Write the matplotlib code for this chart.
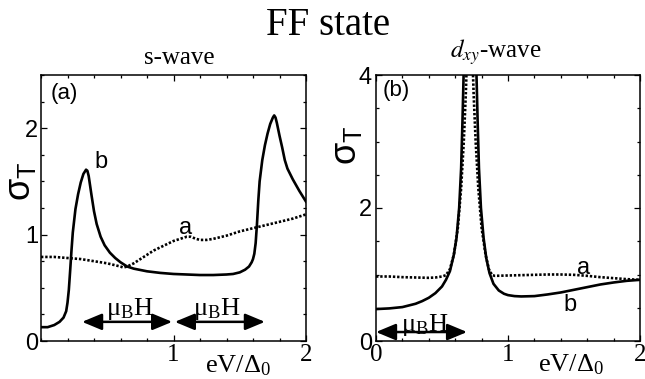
import matplotlib
matplotlib.use("Agg")
import matplotlib.pyplot as plt
from matplotlib.ticker import MultipleLocator, FixedLocator

# ---------------- data ----------------
# panel (a): s-wave
sa_x = [0, 0.1, 0.2, 0.3, 0.4, 0.5, 0.6, 0.62, 0.65, 0.7, 0.75, 0.8, 0.85, 0.9, 0.95,
        1.0, 1.05, 1.1, 1.13, 1.17, 1.2, 1.25, 1.3, 1.4, 1.5, 1.6, 1.7, 1.8, 1.9, 2.0]
sa_y = [0.79, 0.79, 0.78, 0.77, 0.75, 0.73, 0.70, 0.69, 0.70, 0.73, 0.77, 0.81, 0.85, 0.88, 0.91,
        0.94, 0.96, 0.98, 0.98, 0.96, 0.95, 0.95, 0.96, 0.99, 1.03, 1.06, 1.09, 1.12, 1.15, 1.19]

sb_x = [0, 0.05, 0.10, 0.14, 0.17, 0.19, 0.20, 0.21, 0.22, 0.23, 0.24, 0.26, 0.28, 0.30, 0.32,
        0.34, 0.35, 0.36, 0.38, 0.40, 0.42, 0.45, 0.48, 0.52, 0.56, 0.60, 0.65, 0.70, 0.80, 0.90,
        1.00, 1.10, 1.20, 1.30, 1.40, 1.45, 1.50, 1.54, 1.57, 1.59, 1.60, 1.61, 1.62, 1.63, 1.64,
        1.65, 1.67, 1.69, 1.71, 1.73, 1.75, 1.76, 1.77, 1.78, 1.80, 1.82, 1.84, 1.86, 1.88, 1.90,
        1.95, 2.0]
sb_y = [0.13, 0.13, 0.15, 0.18, 0.22, 0.28, 0.36, 0.48, 0.66, 0.85, 1.02, 1.24, 1.38, 1.49, 1.57,
        1.61, 1.60, 1.55, 1.38, 1.22, 1.10, 0.98, 0.90, 0.83, 0.78, 0.74, 0.70, 0.68, 0.655, 0.64,
        0.63, 0.625, 0.62, 0.62, 0.625, 0.63, 0.645, 0.67, 0.70, 0.74, 0.77, 0.82, 0.92, 1.10, 1.32,
        1.50, 1.70, 1.84, 1.95, 2.04, 2.10, 2.12, 2.10, 2.05, 1.93, 1.82, 1.70, 1.62, 1.57, 1.52,
        1.41, 1.31]

# panel (b): dxy-wave
da_x = [0, 0.1, 0.2, 0.3, 0.4, 0.45, 0.5, 0.53, 0.56, 0.59, 0.62, 0.645, 0.665, 0.68, 0.69, 0.70,
        0.72, 0.73, 0.74, 0.755, 0.775, 0.80, 0.83, 0.855, 0.88, 0.9, 1.0, 1.1, 1.2, 1.3, 1.4,
        1.5, 1.6, 1.7, 1.8, 1.9, 2.0]
da_y = [0.97, 0.97, 0.96, 0.955, 0.95, 0.955, 0.97, 0.99, 1.08, 1.30, 1.70, 2.3, 3.0, 3.7, 4.3, 5.5,
        5.5, 4.3, 3.7, 3.0, 2.3, 1.70, 1.30, 1.08, 0.99, 0.98, 0.985, 0.99, 0.995, 1.0, 1.0,
        0.995, 0.98, 0.96, 0.945, 0.93, 0.92]

db_x = [0, 0.1, 0.2, 0.3, 0.35, 0.4, 0.45, 0.5, 0.53, 0.56, 0.59, 0.61, 0.63, 0.645, 0.655, 0.665,
        0.68, 0.745, 0.76, 0.77, 0.78, 0.795, 0.815, 0.835, 0.86, 0.89, 0.93, 0.97, 1.0, 1.05,
        1.1, 1.2, 1.3, 1.4, 1.5, 1.6, 1.7, 1.8, 1.9, 2.0]
db_y = [0.48, 0.49, 0.51, 0.56, 0.60, 0.65, 0.72, 0.82, 0.92, 1.05, 1.30, 1.55, 2.0, 2.6, 3.3, 4.1,
        5.5, 5.5, 4.1, 3.3, 2.6, 2.0, 1.55, 1.25, 1.02, 0.86, 0.76, 0.71, 0.69, 0.675,
        0.67, 0.675, 0.70, 0.73, 0.77, 0.81, 0.85, 0.88, 0.905, 0.92]

# annotations (arrows: x-start, x-end, y ; label x, y)
a_arrows = [(0.31, 0.99, 0.18), (1.01, 1.69, 0.18)]
a_arrow_labels = [(0.67, 0.24), (1.33, 0.24)]
b_arrows = [(0.0, 0.69, 0.135)]
b_arrow_labels = [(0.37, 0.15)]

SERIF = "Liberation Serif"
SANS = "Liberation Sans"

fig = plt.figure(figsize=(6.45, 3.79), dpi=100)
axA = fig.add_axes([41/645, 38/379, 265/645, 266/379])
axB = fig.add_axes([376/645, 38/379, 264/645, 266/379])

LW = 1.9
DOT = (0, (0.9, 0.7))

def style(ax):
    for s in ax.spines.values():
        s.set_linewidth(1.1)
    ax.tick_params(which="both", direction="in", top=True, right=True, width=0.9)
    ax.tick_params(which="major", length=4)
    ax.tick_params(which="minor", length=2.5)
    ax.tick_params(axis="x", pad=2)
    ax.tick_params(axis="y", pad=2)

ARROW = dict(arrowstyle="<|-|>,head_length=0.6,head_width=0.25",
             color="black", lw=1.8, shrinkA=0, shrinkB=0, mutation_scale=20)

# ---- panel a ----
axA.plot(sa_x, sa_y, color="black", lw=LW, linestyle=DOT)
axA.plot(sb_x, sb_y, color="black", lw=LW)
axA.set_xlim(0, 2)
axA.set_ylim(0, 2.5)
style(axA)
axA.xaxis.set_major_locator(FixedLocator([1, 2]))
axA.xaxis.set_minor_locator(MultipleLocator(0.2))
axA.yaxis.set_major_locator(FixedLocator([0, 1, 2]))
axA.yaxis.set_minor_locator(MultipleLocator(0.25))
axA.set_xticklabels(["1", "2"], fontfamily=SERIF, fontsize=18)
axA.set_yticklabels(["0", "1", "2"], fontfamily=SANS, fontsize=17)
axA.text(0.087, 0.93, "(a)", transform=axA.transAxes, ha="center", va="center",
         fontfamily=SANS, fontsize=16)
axA.text(0.45, 1.68, "b", ha="center", va="center", fontfamily=SANS, fontsize=17)
axA.text(1.09, 1.06, "a", ha="center", va="center", fontfamily=SANS, fontsize=17)
for (x0, x1, y) in a_arrows:
    axA.annotate("", xy=(x1, y), xytext=(x0, y), arrowprops=ARROW)
for (x, y) in a_arrow_labels:
    axA.text(x, y, r"$\mathregular{μ_BH}$", ha="center", va="baseline",
             fontfamily=SERIF, fontsize=19)

# ---- panel b ----
axB.plot(da_x, da_y, color="black", lw=LW, linestyle=DOT)
axB.plot(db_x, db_y, color="black", lw=LW)
axB.set_xlim(0, 2)
axB.set_ylim(0, 4)
style(axB)
axB.xaxis.set_major_locator(FixedLocator([0, 1, 2]))
axB.xaxis.set_minor_locator(MultipleLocator(0.2))
axB.yaxis.set_major_locator(FixedLocator([0, 2, 4]))
axB.yaxis.set_minor_locator(MultipleLocator(0.5))
axB.set_xticklabels(["0", "1", "2"], fontfamily=SERIF, fontsize=18)
axB.set_yticklabels(["0", "2", "4"], fontfamily=SANS, fontsize=17)
axB.tick_params(axis="y", pad=3)
axB.text(0.075, 0.94, "(b)", transform=axB.transAxes, ha="center", va="center",
         fontfamily=SANS, fontsize=16)
axB.text(1.575, 1.10, "a", ha="center", va="center", fontfamily=SANS, fontsize=17)
axB.text(1.47, 0.54, "b", ha="center", va="center", fontfamily=SANS, fontsize=17)
for (x0, x1, y) in b_arrows:
    axB.annotate("", xy=(x1, y), xytext=(x0, y), arrowprops=ARROW)
for (x, y) in b_arrow_labels:
    axB.text(x, y, r"$\mathregular{μ_BH}$", ha="center", va="baseline",
             fontfamily=SERIF, fontsize=19)

# ---- figure texts ----
fig.text(328/645, 1 - 35/379, "FF state", ha="center", va="baseline",
         fontfamily=SERIF, fontsize=28)
fig.text(179/645, 1 - 64/379, "s-wave", ha="center", va="baseline",
         fontfamily=SERIF, fontsize=18)
fig.text(496/645, 1 - 57.5/379, r"$d_{xy}$-wave", ha="center", va="baseline",
         fontfamily=SERIF, fontsize=18, math_fontfamily="stix")
fig.text(20/645, 1 - 181/379, r"$\mathregular{σ_T}$", rotation=90, ha="center", va="center",
         fontfamily=SANS, fontsize=26)
fig.text(346/645, 1 - 145/379, r"$\mathregular{σ_T}$", rotation=90, ha="center", va="center",
         fontfamily=SANS, fontsize=26)
fig.text(238/645, 1 - 372/379, r"$\mathregular{eV/Δ_0}$", ha="center", va="baseline",
         fontfamily=SERIF, fontsize=19)
fig.text(571/645, 1 - 371/379, r"$\mathregular{eV/Δ_0}$", ha="center", va="baseline",
         fontfamily=SERIF, fontsize=19)

fig.savefig("out.png", dpi=100)
